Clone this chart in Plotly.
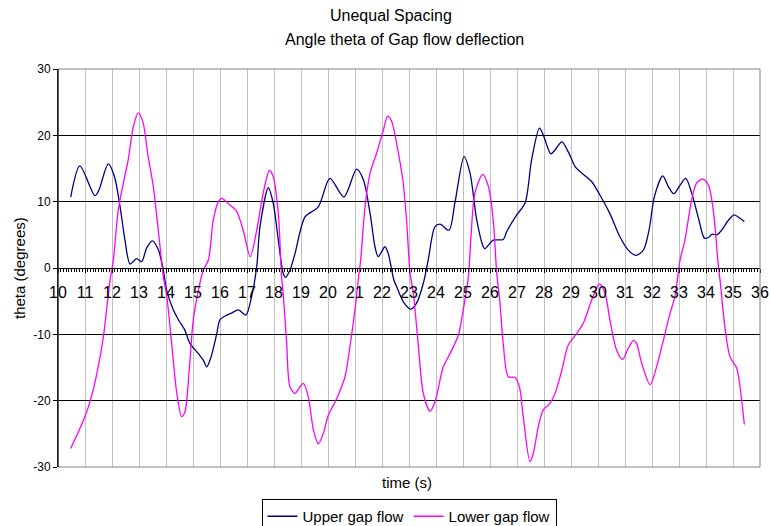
import plotly.graph_objects as go

# Upper gap flow
upper_t = [10.47, 10.81, 11.37, 11.52, 11.86, 12.09, 12.30, 12.48, 12.67, 12.91, 13.10, 13.28, 13.50, 13.72, 13.90,
           14.02, 14.27, 14.46, 14.70, 14.89, 15.20, 15.38, 15.51, 15.67, 15.88, 16.00, 16.25, 16.43, 16.68, 16.96,
           17.17, 17.36, 17.48, 17.79, 17.97, 18.16, 18.34, 18.43, 18.59, 18.78, 19.15, 19.64, 20.07, 20.59, 21.06,
           21.31, 21.56, 21.74, 21.86, 22.11, 22.23, 22.44, 22.54, 22.79, 23.07, 23.28, 23.53, 23.71, 23.96, 24.15,
           24.48, 24.70, 25.04, 25.26, 25.51, 25.75, 25.81, 26.12, 26.49, 26.62, 26.99, 27.30, 27.54, 27.83, 27.97,
           28.25, 28.41, 28.66, 28.90, 29.15, 29.40, 29.77, 30.07, 30.44, 30.81, 31.12, 31.41, 31.68, 31.89, 32.09,
           32.40, 32.60, 32.81, 33.04, 33.25, 33.47, 33.74, 33.94, 34.09, 34.23, 34.40, 34.58, 34.83, 35.04, 35.26,
           35.42]
upper_v = [10.7, 15.4, 10.9, 11.8, 15.7, 13.8, 9.2, 4.2, 0.6, 1.4, 0.95, 3.0, 4.1, 2.7, -0.3,
           -3.3, -6.3, -7.8, -9.4, -11.4, -12.9, -13.9, -14.9, -13.4, -9.9, -7.8, -7.1, -6.8, -6.3, -7.1,
           -4.3, 0.2, 6.2, 12.1, 9.8, 4.2, -0.8, -1.4, -0.3, 2.2, 7.7, 9.2, 13.5, 10.7, 14.9,
           13.3, 8.2, 3.2, 1.7, 3.2, 2.2, -1.8, -2.8, -5.1, -6.2, -5.3, -2.3, 1.2, 6.2, 6.6,
           5.7, 9.8, 16.8, 14.3, 7.2, 3.2, 2.9, 4.2, 4.3, 5.5, 8.0, 9.8, 16.3, 21.1, 20.1,
           17.2, 17.8, 19.0, 17.5, 15.3, 14.3, 13.0, 11.0, 8.2, 4.7, 2.7, 1.9, 2.7, 5.7, 10.8,
           13.9, 12.3, 11.2, 12.5, 13.5, 11.3, 7.2, 4.5, 4.6, 5.1, 5.0, 5.7, 7.2, 8.0, 7.5,
           7.0]

# Lower gap flow
lower_t = [10.47, 11.00, 11.25, 11.49, 11.68, 11.80, 11.93, 12.05, 12.23, 12.42, 12.60, 12.79, 12.97, 13.14, 13.34,
           13.53, 13.66, 13.78, 13.90, 14.03, 14.21, 14.40, 14.58, 14.70, 14.86, 15.01, 15.23, 15.38, 15.57, 15.75,
           15.94, 16.06, 16.37, 16.62, 16.86, 17.12, 17.36, 17.60, 17.83, 17.97, 18.16, 18.28, 18.34, 18.47, 18.59,
           18.78, 18.96, 19.09, 19.27, 19.46, 19.64, 19.83, 20.01, 20.32, 20.63, 20.81, 21.00, 21.12, 21.21, 21.37,
           21.56, 21.80, 22.05, 22.21, 22.36, 22.54, 22.77, 22.91, 23.04, 23.16, 23.34, 23.53, 23.78, 23.96, 24.27,
           24.52, 24.83, 25.01, 25.20, 25.30, 25.44, 25.73, 25.94, 26.12, 26.25, 26.37, 26.49, 26.68, 26.93, 27.09,
           27.23, 27.48, 27.60, 27.79, 27.97, 28.22, 28.41, 28.66, 28.90, 29.21, 29.46, 29.77, 30.05, 30.26, 30.44,
           30.69, 30.91, 31.12, 31.31, 31.43, 31.62, 31.93, 32.17, 32.42, 32.67, 32.85, 33.04, 33.22, 33.47, 33.65,
           33.88, 34.09, 34.27, 34.46, 34.52, 34.70, 34.89, 35.14, 35.26, 35.42]
lower_v = [-27.2, -22.4, -19.2, -14.9, -10.4, -6.3, -1.8, 1.2, 8.7, 12.8, 16.3, 21.3, 23.4, 22.1, 16.8,
           12.3, 7.7, 3.2, -1.3, -4.3, -11.4, -18.9, -22.4, -21.7, -15.4, -7.8, -2.8, -0.3, 1.2, 7.2,
           10.0, 10.5, 9.5, 8.5, 5.7, 1.7, 5.7, 11.3, 14.7, 13.8, 8.2, -1.3, -3.8, -11.4, -17.9,
           -18.9, -17.9, -17.4, -19.4, -24.4, -26.5, -24.9, -22.2, -19.7, -16.4, -11.9, -6.3, -1.8, 1.2, 9.2,
           14.3, 17.3, 20.8, 22.9, 22.1, 18.8, 13.3, 7.2, -0.8, -3.8, -11.4, -18.9, -21.6, -20.2, -14.9,
           -12.9, -10.1, -6.3, -1.3, 5.0, 11.3, 14.1, 12.3, 7.2, -0.8, -5.3, -11.4, -16.4, -16.5, -17.9,
           -22.4, -29.2, -28.0, -23.9, -21.4, -20.4, -18.9, -15.4, -11.6, -9.9, -8.3, -4.8, -2.4, -3.8, -7.8,
           -12.4, -13.8, -12.1, -10.9, -11.4, -14.4, -17.6, -14.9, -10.9, -6.8, -4.3, 1.2, 4.2, 10.3, 12.8,
           13.4, 12.5, 8.7, 0.2, -1.8, -8.9, -13.4, -15.1, -17.9, -23.6]

x_ticks = list(range(10, 37))
y_ticks = [-30, -20, -10, 0, 10, 20, 30]

FONT = "Liberation Sans, Arial, sans-serif"

fig = go.Figure()
fig.add_trace(go.Scatter(x=upper_t, y=upper_v, mode="lines", name="Upper gap flow",
                         line=dict(color="#000080", width=1.3, shape="spline", smoothing=0.8)))
fig.add_trace(go.Scatter(x=lower_t, y=lower_v, mode="lines", name="Lower gap flow",
                         line=dict(color="#FF00FF", width=1.3, shape="spline", smoothing=0.8)))

fig.update_layout(
    width=771, height=526,
    margin=dict(l=58, r=11, t=69, b=59, autoexpand=False),
    paper_bgcolor="white", plot_bgcolor="white",
    font=dict(family=FONT, color="black"),
    showlegend=True,
    legend=dict(orientation="h", x=0.5, xanchor="center", y=-(499 - 467) / 398, yanchor="top",
                bordercolor="black", borderwidth=1, bgcolor="white",
                font=dict(size=15), itemwidth=30, traceorder="normal"),
    xaxis=dict(range=[10, 36], tickvals=x_ticks, ticktext=[str(v) for v in x_ticks],
               anchor="free", position=0.5, showline=True, linecolor="black", linewidth=1,
               ticks="outside", ticklen=4, tickcolor="black", tickfont=dict(size=16),
               minor=dict(dtick=0.1, ticks="outside", ticklen=3, tickcolor="black", showgrid=False),
               showgrid=True, gridcolor="#C0C0C0", gridwidth=1, zeroline=False,
               ticklabelstandoff=6, automargin=False),
    yaxis=dict(range=[-30, 30], tickvals=y_ticks, ticktext=[str(v) for v in y_ticks],
               showline=True, linecolor="black", linewidth=1,
               ticks="outside", ticklen=4, tickcolor="black", tickfont=dict(size=12),
               showgrid=True, gridcolor="black", gridwidth=1, zeroline=False, automargin=False),
    shapes=[
        dict(type="rect", xref="paper", yref="paper", x0=0, x1=1, y0=0, y1=1,
             line=dict(color="#808080", width=1), layer="above"),
        dict(type="line", xref="paper", yref="paper", x0=0, x1=0, y0=0, y1=1,
             line=dict(color="black", width=1), layer="above"),
    ],
    annotations=[
        dict(text="Unequal Spacing", xref="paper", yref="paper", x=0.474, y=1.0 + (69 - 16) / 398,
             showarrow=False, font=dict(size=16), xanchor="center", yanchor="middle"),
        dict(text="Angle theta of Gap flow deflection", xref="paper", yref="paper", x=0.494,
             y=1.0 + (69 - 40) / 398, showarrow=False, font=dict(size=16), xanchor="center", yanchor="middle"),
        dict(text="time (s)", xref="paper", yref="paper", x=0.497, y=-(482 - 467) / 398,
             showarrow=False, font=dict(size=15), xanchor="center", yanchor="middle"),
        dict(text="theta (degrees)", xref="paper", yref="paper", x=-(58 - 19) / 702, y=0.5,
             showarrow=False, font=dict(size=15), textangle=-90, xanchor="center", yanchor="middle"),
    ],
)

# remove the page's default body margin so the 771x526 figure fills the window exactly
fig.write_html("out.html", config={"displayModeBar": False},
               post_script="document.body.style.margin='0';document.body.style.overflow='hidden';")
